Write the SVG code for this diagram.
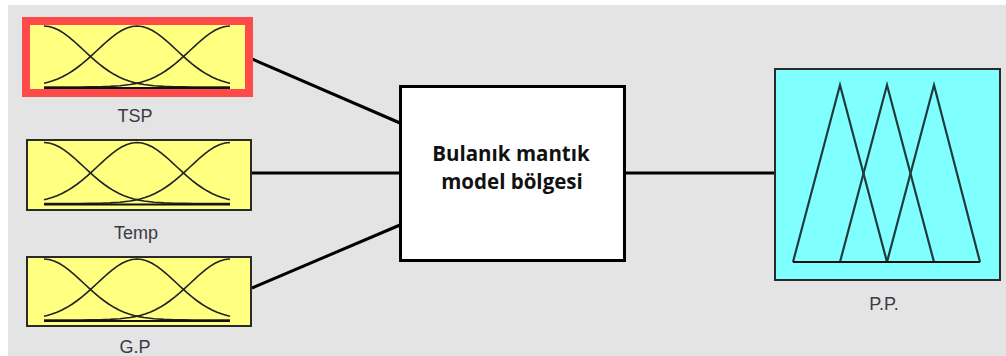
<svg xmlns="http://www.w3.org/2000/svg" width="1006" height="356" viewBox="0 0 1006 356">
  <style>
    .label { font-family: "Liberation Sans", Arial, sans-serif; font-size: 18px; fill: #3a3a44; text-anchor: middle; }
    .fistext { font-family: "Open Sans", "Noto Sans", sans-serif; font-weight: bold; font-size: 20.5px; fill: #111; text-anchor: middle; }
    .inbox { fill: #ffff80; stroke: #2a2a2a; stroke-width: 2; }
    .mf { fill: none; stroke: #222; stroke-width: 1.6; stroke-linejoin: round; }
    .base { fill: none; stroke: #111; stroke-width: 1.8; }
    .conn { stroke: #000; stroke-width: 3; fill: none; }
    .tri { fill: none; stroke: #1f3b3b; stroke-width: 2.2; stroke-linejoin: miter; }
  </style>
  <defs>
    <g id="gauss3">
      <path class="mf" d="M0,0 L5,0.49 L10,1.92 L15,4.25 L20,7.34 L25,11.07 L30,15.28 L35,19.81 L40,24.47 L45,29.12 L50,33.62 L55,37.86 L60,41.75 L65,45.25 L70,48.31 L75,50.94 L80,53.16 L85,54.98 L90,56.45 L95,57.61 L100,58.52 L110,59.74 L120,60.4 L130,60.73 L140,60.88 L150,60.95 L186,61"/>
      <path class="mf" d="M0,57.18 L3,56.45 L8,54.98 L13,53.16 L18,50.94 L23,48.31 L28,45.25 L33,41.75 L38,37.86 L43,33.62 L48,29.12 L53,24.47 L58,19.81 L63,15.28 L68,11.07 L73,7.34 L78,4.25 L83,1.92 L88,0.49 L93,0 L98,0.49 L103,1.92 L108,4.25 L113,7.34 L118,11.07 L123,15.28 L128,19.81 L133,24.47 L138,29.12 L143,33.62 L148,37.86 L153,41.75 L158,45.25 L163,48.31 L168,50.94 L173,53.16 L178,54.98 L183,56.45 L186,57.18"/>
      <path class="mf" d="M186,0 L181,0.49 L176,1.92 L171,4.25 L166,7.34 L161,11.07 L156,15.28 L151,19.81 L146,24.47 L141,29.12 L136,33.62 L131,37.86 L126,41.75 L121,45.25 L116,48.31 L111,50.94 L106,53.16 L101,54.98 L96,56.45 L91,57.61 L86,58.52 L76,59.74 L66,60.4 L56,60.73 L46,60.88 L36,60.95 L0,61"/>
      <line class="base" x1="0" y1="62" x2="186" y2="62"/>
    </g>
  </defs>

  <rect x="0" y="0" width="1006" height="356" fill="#ffffff"/>
  <rect x="8" y="5" width="998" height="351" fill="#e4e4e4"/>

  <g id="connectors">
    <line class="conn" x1="252" y1="59" x2="400" y2="123"/>
    <line class="conn" x1="252" y1="173" x2="400" y2="173"/>
    <line class="conn" x1="252" y1="288" x2="400" y2="225"/>
    <line class="conn" x1="625" y1="173" x2="775" y2="173"/>
  </g>

  <g id="node-tsp">
    <rect x="26" y="21" width="223" height="72" fill="#ffff80" stroke="#ff4a4a" stroke-width="8"/>
    <use href="#gauss3" transform="translate(44,26)"/>
    <text class="label" x="135" y="122">TSP</text>
  </g>

  <g id="node-temp">
    <rect class="inbox" x="27" y="140" width="224" height="70"/>
    <use href="#gauss3" transform="translate(44,142.5)"/>
    <text class="label" x="136" y="239">Temp</text>
  </g>

  <g id="node-gp">
    <rect class="inbox" x="27" y="257" width="224" height="69"/>
    <use href="#gauss3" transform="translate(44,259)"/>
    <text class="label" x="135" y="353">G.P</text>
  </g>

  <g id="node-fis">
    <rect x="400.5" y="86.5" width="224" height="174" fill="#ffffff" stroke="#000" stroke-width="3"/>
    <text class="fistext" x="511" y="161">Bulanık mantık</text>
    <text class="fistext" x="512" y="189">model bölgesi</text>
  </g>

  <g id="node-pp">
    <rect x="775" y="69" width="225" height="211" fill="#80ffff" stroke="#2a2a2a" stroke-width="2"/>
    <path class="tri" d="M793,262 L840,85 L887,262"/>
    <path class="tri" d="M840,262 L887,85 L934,262"/>
    <path class="tri" d="M887,262 L934,85 L980,262"/>
    <line class="base" x1="793" y1="262" x2="980" y2="262"/>
    <text class="label" x="884" y="310">P.P.</text>
  </g>
</svg>
